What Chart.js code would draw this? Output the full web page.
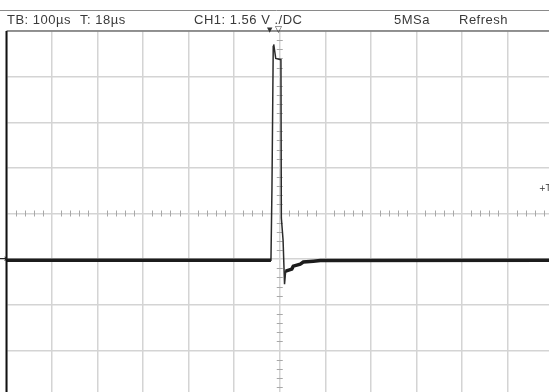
<!DOCTYPE html>
<html>
<head>
<meta charset="utf-8">
<script src="https://cdn.jsdelivr.net/npm/chart.js@4.4.1/dist/chart.umd.min.js"></script>
<style>
  html, body { margin: 0; padding: 0; background: #fff; overflow: hidden; width: 549px; height: 392px; }
  #wrap { position: relative; width: 549px; height: 392px; overflow: hidden; }
  canvas { position: absolute; left: 0; top: 0; }
  .hdr { position: absolute; top: 12px; font: 13px "Liberation Sans", Arial, sans-serif; letter-spacing: 0.5px; line-height: 15px; color: #3a3a3a; white-space: nowrap; }
  .mk { position: absolute; font: 8px "DejaVu Sans", sans-serif; color: #333; line-height: 8px; }
</style>
</head>
<body>
<div id="wrap">
  <canvas id="scope" width="553" height="396"></canvas>
  <div class="hdr" style="left:7px">TB: 100µs</div>
  <div class="hdr" style="left:80px">T: 18µs</div>
  <div class="hdr" style="left:194px">CH1: 1.56 V ./DC</div>
  <div class="hdr" style="left:394px">5MSa</div>
  <div class="hdr" style="left:459px">Refresh</div>
  <div class="mk" style="left:267px;top:26px;font-size:7px">▼</div>
  <div class="mk" style="left:275px;top:25px;font-size:9px">▽</div>
  <div class="mk" style="left:-1px;top:255px;font-size:10px;font-weight:bold;color:#222">→</div>
  <div class="mk" style="left:539px;top:185px">+T</div>
</div>
<script>
// Oscilloscope capture: CH1, 100 us/div, 1.56 V/div, ground one division below centre
const timeUs   = [-600, -19.3, -17.1, -14.3, -13.2, -8.8, 2.6, 3.5, 7.3, 10.5, 13.0, 26.4, 29.7, 45.0, 51.7, 73.7, 89.0, 600];
const ch1Volts = [-0.04, -0.04, 2.43, 7.27, 7.34, 6.86, 6.82, 1.41, 0.65, -0.86, -0.41, -0.34, -0.24, -0.17, -0.10, -0.07, -0.05, -0.04];

const voltsPerDiv = 1.56;
const usPerDiv = 100;
const divsLeft = 6, divsRight = 6;   // time divisions either side of the trigger
const divsAbove = 5, divsBelow = 3;  // vertical divisions above / below ground

const tracePts = timeUs.map((t, i) => ({ x: t, y: ch1Volts[i] }));
// the noisy flat parts of the trace show up as a thick band
const bandPts = tracePts.map(p => ({ x: p.x, y: Math.abs(p.y) < 0.45 ? p.y : null }));

const graticule = {
  id: 'graticule',
  beforeDatasetsDraw(chart) {
    const ctx = chart.ctx, xs = chart.scales.x, ys = chart.scales.y;
    const cx = xs.getPixelForValue(0);
    const cy = ys.getPixelForValue(voltsPerDiv);
    ctx.save();
    ctx.strokeStyle = '#a8a8a8';
    ctx.lineWidth = 1;
    ctx.beginPath();
    for (let k = -divsLeft * 5; k <= divsRight * 5; k++) {
      if (k % 5 === 0) continue;
      const px = Math.round(xs.getPixelForValue(k * usPerDiv / 5)) + 0.5;
      ctx.moveTo(px, cy - 3); ctx.lineTo(px, cy + 3);
    }
    for (let k = -divsBelow * 5; k <= divsAbove * 5; k++) {
      if (k % 5 === 0) continue;
      const py = Math.round(ys.getPixelForValue(k * voltsPerDiv / 5)) + 0.5;
      ctx.moveTo(cx - 3, py); ctx.lineTo(cx + 3, py);
    }
    ctx.stroke();
    ctx.restore();
  },
  afterDraw(chart) {
    const ctx = chart.ctx, a = chart.chartArea;
    ctx.save();
    // header rule
    ctx.strokeStyle = '#8a8a8a';
    ctx.lineWidth = 1;
    ctx.beginPath(); ctx.moveTo(0, 10.5); ctx.lineTo(chart.width, 10.5); ctx.stroke();
    // top frame
    ctx.strokeStyle = '#777';
    ctx.lineWidth = 1.5;
    ctx.beginPath(); ctx.moveTo(a.left, a.top); ctx.lineTo(chart.width, a.top); ctx.stroke();
    // left frame
    ctx.strokeStyle = '#111';
    ctx.lineWidth = 2;
    ctx.beginPath(); ctx.moveTo(a.left, a.top); ctx.lineTo(a.left, chart.height); ctx.stroke();
    ctx.restore();
  }
};

new Chart(document.getElementById('scope'), {
  type: 'line',
  data: {
    datasets: [
      {
        label: 'CH1 band',
        data: bandPts,
        borderColor: '#1c1c1c',
        borderWidth: 3.5,
        pointRadius: 0,
        spanGaps: false,
        tension: 0
      },
      {
        label: 'CH1',
        data: tracePts,
        borderColor: '#2b2b2b',
        borderWidth: 1.5,
        pointRadius: 0,
        tension: 0
      }
    ]
  },
  options: {
    responsive: false,
    animation: false,
    layout: { padding: { left: 6.5, top: 31, right: 0, bottom: 0 } },
    plugins: { legend: { display: false }, tooltip: { enabled: false } },
    scales: {
      x: {
        type: 'linear',
        min: -divsLeft * usPerDiv,
        max: divsRight * usPerDiv,
        ticks: { display: false, stepSize: usPerDiv },
        grid: { color: '#d4d4d4', lineWidth: 1.5, drawTicks: false },
        border: { display: false },
        afterFit(s) { s.height = 0; }
      },
      y: {
        type: 'linear',
        min: -divsBelow * voltsPerDiv,
        max: divsAbove * voltsPerDiv,
        ticks: { display: false, stepSize: voltsPerDiv },
        grid: { color: '#d4d4d4', lineWidth: 1.5, drawTicks: false },
        border: { display: false },
        afterFit(s) { s.width = 0; }
      }
    }
  },
  plugins: [graticule]
});
</script>
</body>
</html>
